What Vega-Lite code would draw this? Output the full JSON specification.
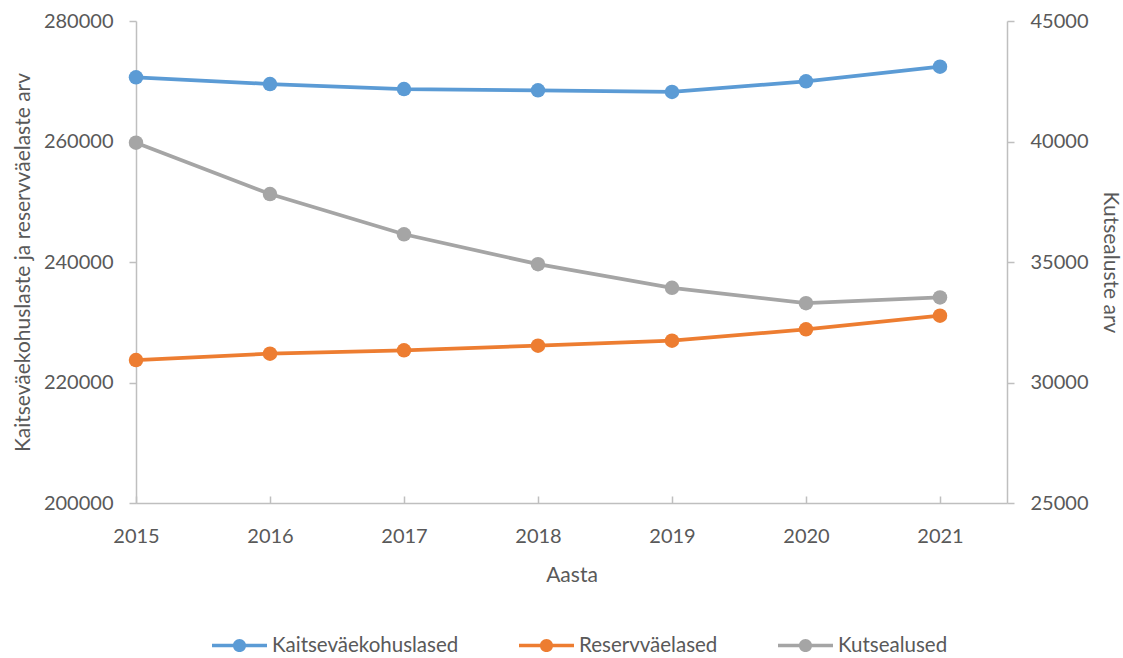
{
  "$schema": "https://vega.github.io/schema/vega-lite/v6.json",
  "width": 871,
  "height": 482,
  "autosize": "none",
  "padding": {"left": 136, "top": 21, "right": 116, "bottom": 155},
  "background": "white",
  "config": {
    "view": {"stroke": null},
    "font": "Lato",
    "axis": {
      "grid": false,
      "domainColor": "#BFBFBF",
      "domainWidth": 1.5,
      "tickColor": "#BFBFBF",
      "tickWidth": 1.5,
      "labelFont": "Lato",
      "labelFontSize": 20,
      "labelColor": "#595959",
      "titleFont": "Lato",
      "titleFontSize": 21,
      "titleFontWeight": "normal",
      "titleColor": "#595959"
    }
  },
  "data": {
    "values": [
      {"year": 2015, "series": "Kaitseväekohuslased", "value": 270650},
      {"year": 2016, "series": "Kaitseväekohuslased", "value": 269540},
      {"year": 2017, "series": "Kaitseväekohuslased", "value": 268710},
      {"year": 2018, "series": "Kaitseväekohuslased", "value": 268500},
      {"year": 2019, "series": "Kaitseväekohuslased", "value": 268220},
      {"year": 2020, "series": "Kaitseväekohuslased", "value": 269990},
      {"year": 2021, "series": "Kaitseväekohuslased", "value": 272420},
      {"year": 2015, "series": "Reservväelased", "value": 223730},
      {"year": 2016, "series": "Reservväelased", "value": 224780},
      {"year": 2017, "series": "Reservväelased", "value": 225340},
      {"year": 2018, "series": "Reservväelased", "value": 226110},
      {"year": 2019, "series": "Reservväelased", "value": 226940},
      {"year": 2020, "series": "Reservväelased", "value": 228830},
      {"year": 2021, "series": "Reservväelased", "value": 231090},
      {"year": 2015, "series": "Kutsealused", "value": 39950},
      {"year": 2016, "series": "Kutsealused", "value": 37820},
      {"year": 2017, "series": "Kutsealused", "value": 36150},
      {"year": 2018, "series": "Kutsealused", "value": 34910},
      {"year": 2019, "series": "Kutsealused", "value": 33930},
      {"year": 2020, "series": "Kutsealused", "value": 33290},
      {"year": 2021, "series": "Kutsealused", "value": 33530}
    ]
  },
  "encoding": {
    "x": {
      "field": "year",
      "type": "quantitative",
      "scale": {"domain": [2015, 2021.5], "nice": false, "zero": false},
      "axis": {
        "title": "Aasta",
        "values": [2015, 2016, 2017, 2018, 2019, 2020, 2021],
        "format": "d",
        "tickSize": -7,
        "labelFlush": false,
        "labelPadding": 30,
        "titlePadding": 18
      }
    },
    "color": {
      "field": "series",
      "type": "nominal",
      "scale": {
        "domain": ["Kaitseväekohuslased", "Reservväelased", "Kutsealused"],
        "range": ["#5B9BD5", "#ED7D31", "#A5A5A5"]
      },
      "legend": {
        "title": null,
        "orient": "none",
        "direction": "horizontal",
        "legendX": 76,
        "legendY": 597,
        "symbolType": "M-1,-0.06H1V0.06H-1Z M0.24,0 A0.24,0.24 0 1,1 -0.24,0 A0.24,0.24 0 1,1 0.24,0Z",
        "symbolSize": 3025,
        "symbolStrokeWidth": 0,
        "labelFont": "Lato",
        "labelFontSize": 20.5,
        "labelColor": "#595959",
        "labelOffset": 5,
        "labelLimit": 400,
        "columnPadding": 60,
        "encode": {
          "symbols": {"update": {
            "fill": {"scale": "color", "field": "value"},
            "shape": {"value": "M-1,-0.06H1V0.06H-1Z M0.24,0 A0.24,0.24 0 1,1 -0.24,0 A0.24,0.24 0 1,1 0.24,0Z"},
            "size": {"value": 3025},
            "strokeWidth": {"value": 0},
            "opacity": {"value": 1}
          }}
        }
      }
    }
  },
  "layer": [
    {
      "transform": [{"filter": "datum.series !== 'Kutsealused'"}],
      "encoding": {
        "y": {
          "field": "value",
          "type": "quantitative",
          "scale": {"domain": [200000, 280000], "nice": false, "zero": false},
          "axis": {
            "orient": "left",
            "title": "Kaitseväekohuslaste ja reservväelaste arv",
            "values": [200000, 220000, 240000, 260000, 280000],
            "format": "d",
            "tickSize": 7,
            "labelPadding": 16,
            "titlePadding": 10
          }
        }
      },
      "layer": [
        {"mark": {"type": "line", "strokeWidth": 3.75}},
        {"mark": {"type": "point", "filled": true, "size": 210, "opacity": 1}}
      ]
    },
    {
      "transform": [{"filter": "datum.series === 'Kutsealused'"}],
      "encoding": {
        "y": {
          "field": "value",
          "type": "quantitative",
          "scale": {"domain": [25000, 45000], "nice": false, "zero": false},
          "axis": {
            "orient": "right",
            "title": "Kutsealuste arv",
            "values": [25000, 30000, 35000, 40000, 45000],
            "format": "d",
            "tickSize": 7,
            "labelPadding": 16,
            "titlePadding": 11
          }
        }
      },
      "layer": [
        {"mark": {"type": "line", "strokeWidth": 3.75}},
        {"mark": {"type": "point", "filled": true, "size": 210, "opacity": 1}}
      ]
    }
  ],
  "resolve": {"scale": {"y": "independent"}}
}
